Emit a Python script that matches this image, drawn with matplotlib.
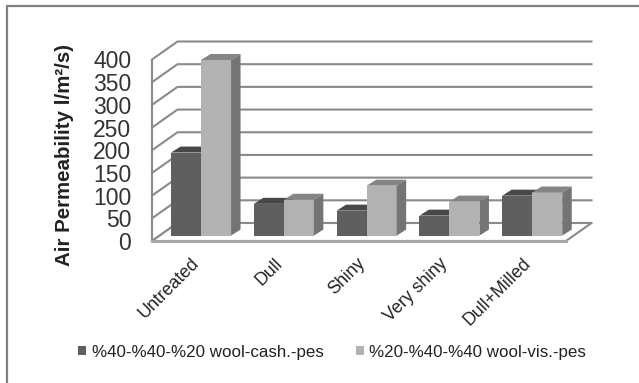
#air permeability chart, 3d look bars drawn by hand with polygons
import matplotlib
matplotlib.use("Agg")
import matplotlib.pyplot as plt
from matplotlib.patches import Polygon, Rectangle
from matplotlib.lines import Line2D

plt.rcParams['font.family'] = ['Liberation Sans', 'DejaVu Sans']

categories = ["Untreated", "Dull", "Shiny", "Very shiny", "Dull+Milled"]
series_names = ["%40-%40-%20 wool-cash.-pes", "%20-%40-%40 wool-vis.-pes"]
cash_values = [183, 70, 55, 44, 88]
vis_values = [387, 79, 110, 75, 95]
y_ticks = [0, 50, 100, 150, 200, 250, 300, 350, 400]

W, H = 639, 383
fig = plt.figure(figsize=(W / 100, H / 100), dpi=100, facecolor="white")

# axes box is the front of the plot, the depth goes outside it
ax = fig.add_axes([152 / W, 1 - 241 / H, 414 / W, 181.5 / H])
ax.set_xlim(0, 5)
ax.set_ylim(0, 400)
ax.patch.set_visible(False)
for s in ax.spines.values():
    s.set_visible(False)

# depth of the box and of one bar in data units
xs = 5 / 414
ys = 400 / 181.5
box_dx = 25.5 * xs
box_dy = 18 * ys
bar_dx = 9.5 * xs
bar_dy = 6 * ys
bar_w = 30 * xs
grid_col = "#8a8a8a"

# back wall and side wall lines
for t in y_ticks:
    ax.plot([0, box_dx, 5 + box_dx], [t, t + box_dy, t + box_dy], color=grid_col, lw=1.5, clip_on=False, zorder=1)
ax.plot([0, 0], [0, 400], color=grid_col, lw=1.5, clip_on=False, zorder=1)

# floor
ax.add_patch(Polygon([(0, 0), (box_dx, box_dy), (5 + box_dx, box_dy), (5, 0)], closed=True, fc="white", ec=grid_col, lw=1.5, clip_on=False, zorder=2))
ax.plot([0, 5], [0, 0], color="#a8a8a8", lw=2.2, clip_on=False, zorder=2)


def bar3d(x, h, front, top, side, z):
    base_x = x + 0.3 * box_dx
    base_y = 0.3 * box_dy
    ax.add_patch(Rectangle((base_x, base_y), bar_w, h, fc=front, ec="none", clip_on=False, zorder=z))
    ax.add_patch(Polygon([(base_x, base_y + h), (base_x + bar_dx, base_y + h + bar_dy),
                          (base_x + bar_w + bar_dx, base_y + h + bar_dy), (base_x + bar_w, base_y + h)],
                         closed=True, fc=top, ec="none", clip_on=False, zorder=z))
    ax.add_patch(Polygon([(base_x + bar_w, base_y), (base_x + bar_w + bar_dx, base_y + bar_dy),
                          (base_x + bar_w + bar_dx, base_y + h + bar_dy), (base_x + bar_w, base_y + h)],
                         closed=True, fc=side, ec="none", clip_on=False, zorder=z))


for i in range(len(categories)):
    left = i + 0.5 - bar_w
    bar3d(left, cash_values[i], "#5f5f5f", "#484848", "#4f4f4f", 3 + i)
    bar3d(left + bar_w, vis_values[i], "#b2b2b2", "#858585", "#747474", 3.5 + i)

ax.set_yticks(y_ticks)
ax.tick_params(axis="y", length=0, pad=15, labelsize=16.5, labelcolor="#333333")
ax.set_xticks([i + 0.47 for i in range(5)])
ax.set_xticklabels(categories, rotation=45, ha="right", rotation_mode="anchor", fontsize=12.8, color="#222222")
ax.tick_params(axis="x", length=0, pad=10)
ax.set_ylabel("Air Permeability l/m²/s)", fontsize=14.8, fontweight="bold", color="#222222")
ax.yaxis.set_label_coords(-0.188, 0.474)

# outer frame, only top and left sides show
fig.add_artist(Line2D([7 / W, 7 / W, 1], [0, 1 - 6 / H, 1 - 6 / H], transform=fig.transFigure, color="#808080", lw=1.6))

# legend
handles = [Rectangle((0, 0), 1, 1, fc="#5f5f5f"), Rectangle((0, 0), 1, 1, fc="#b2b2b2")]
fig.legend(handles, series_names, ncol=2, loc="center", bbox_to_anchor=(332 / W, 1 - 352 / H), frameon=False,
           fontsize=12.2, handlelength=0.47, handleheight=0.47, handletextpad=0.3, columnspacing=1.9, labelcolor="#222222")

fig.savefig("out.png", dpi=100)
